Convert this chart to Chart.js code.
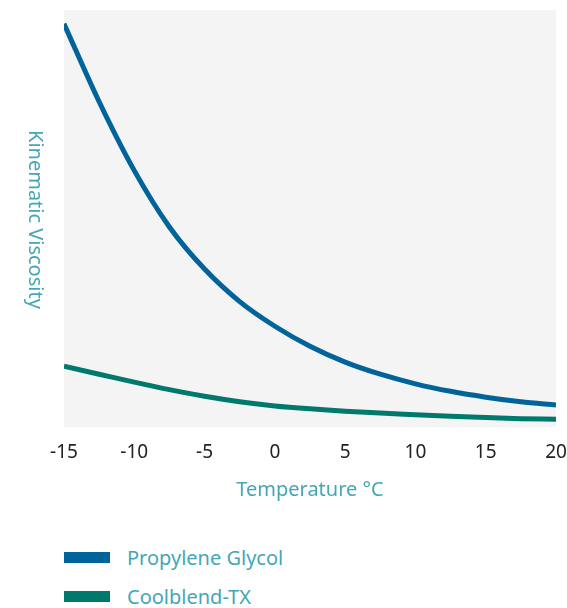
<!DOCTYPE html>
<html>
<head>
<meta charset="utf-8">
<script src="https://cdn.jsdelivr.net/npm/chart.js@4"></script>
<style>
  body { margin: 0; background: #fff; font-family: "Noto Sans", sans-serif; }
  #wrap { position: relative; width: 567px; height: 608px; }
  #chart-box { position: absolute; left: 0; top: 0; width: 567px; height: 510px; }
  #y-title {
    position: absolute; left: 23px; top: 10px; height: 418px; width: 26px;
    writing-mode: vertical-rl; text-align: center;
    color: #45a6b6; font-size: 20px; line-height: 26px;
  }
  #legend { position: absolute; left: 64px; top: 538px; }
  .legend-item { display: flex; align-items: center; height: 39px; }
  .legend-swatch { width: 46px; height: 11px; margin-right: 17px; }
  .legend-label { color: #45a6b6; font-size: 20px; }
</style>
</head>
<body>
<div id="wrap">
  <div id="chart-box"><canvas id="viscosity-chart"></canvas></div>
  <div id="y-title">Kinematic Viscosity</div>
  <div id="legend"></div>
</div>
<script>
const temps = [-15, -12.5, -10, -7.5, -5, -2.5, 0, 2.5, 5, 7.5, 10, 12.5, 15, 17.5, 20];
const propyleneGlycol = [96.7, 78.0, 61.5, 48.0, 37.9, 30.1, 24.2, 19.4, 15.6, 12.7, 10.4, 8.6, 7.2, 6.1, 5.3];
const coolblendTX = [14.6, 12.7, 10.8, 9.0, 7.4, 6.1, 5.1, 4.4, 3.85, 3.4, 3.0, 2.6, 2.3, 2.05, 1.9];
const xTicks = [-15, -10, -5, 0, 5, 10, 15, 20];

const seriesNames = ["Propylene Glycol", "Coolblend-TX"];
const colors = ["#00649b", "#00796d"];

const plotBackground = {
    id: "plotBackground",
    beforeDraw(chart) {
        const { ctx, chartArea } = chart;
        ctx.save();
        ctx.fillStyle = "#f4f4f4";
        ctx.fillRect(chartArea.left, chartArea.top, chartArea.right - chartArea.left, chartArea.bottom - chartArea.top);
        ctx.restore();
    }
};

const toPoints = (values) => values.map((v, i) => ({ x: temps[i], y: v }));

const chart = new Chart(document.getElementById("viscosity-chart"), {
    type: "line",
    data: {
        datasets: [
            { label: seriesNames[0], data: toPoints(propyleneGlycol), borderColor: colors[0], backgroundColor: colors[0] },
            { label: seriesNames[1], data: toPoints(coolblendTX), borderColor: colors[1], backgroundColor: colors[1] }
        ]
    },
    options: {
        responsive: true,
        maintainAspectRatio: false,
        animation: false,
        layout: { padding: { left: 64, top: 10, right: 11, bottom: 8 } },
        elements: {
            line: { borderWidth: 5, cubicInterpolationMode: "monotone", borderCapStyle: "butt" },
            point: { radius: 0 }
        },
        plugins: { legend: { display: false }, tooltip: { enabled: false } },
        scales: {
            x: {
                type: "linear",
                min: -15,
                max: 20,
                afterBuildTicks: (scale) => { scale.ticks = xTicks.map((v) => ({ value: v })); },
                afterFit: (scale) => { scale.paddingLeft = 0; scale.paddingRight = 0; },
                grid: { display: false, drawTicks: false },
                border: { display: false },
                ticks: {
                    padding: 14,
                    color: "#222",
                    font: { family: "Noto Sans", size: 19 },
                    maxRotation: 0
                },
                title: {
                    display: true,
                    text: "Temperature \u00b0C",
                    color: "#45a6b6",
                    font: { family: "Noto Sans", size: 20 },
                    padding: { top: 0, bottom: 0 }
                }
            },
            y: { display: false, min: 0, max: 100 }
        }
    },
    plugins: [plotBackground]
});

document.getElementById("legend").innerHTML = seriesNames
    .map((name, idx) => `
        <div class="legend-item">
            <span class="legend-swatch" style="background:${colors[idx]}"></span>
            <span class="legend-label">${name}</span>
        </div>`)
    .join("");
</script>
</body>
</html>
